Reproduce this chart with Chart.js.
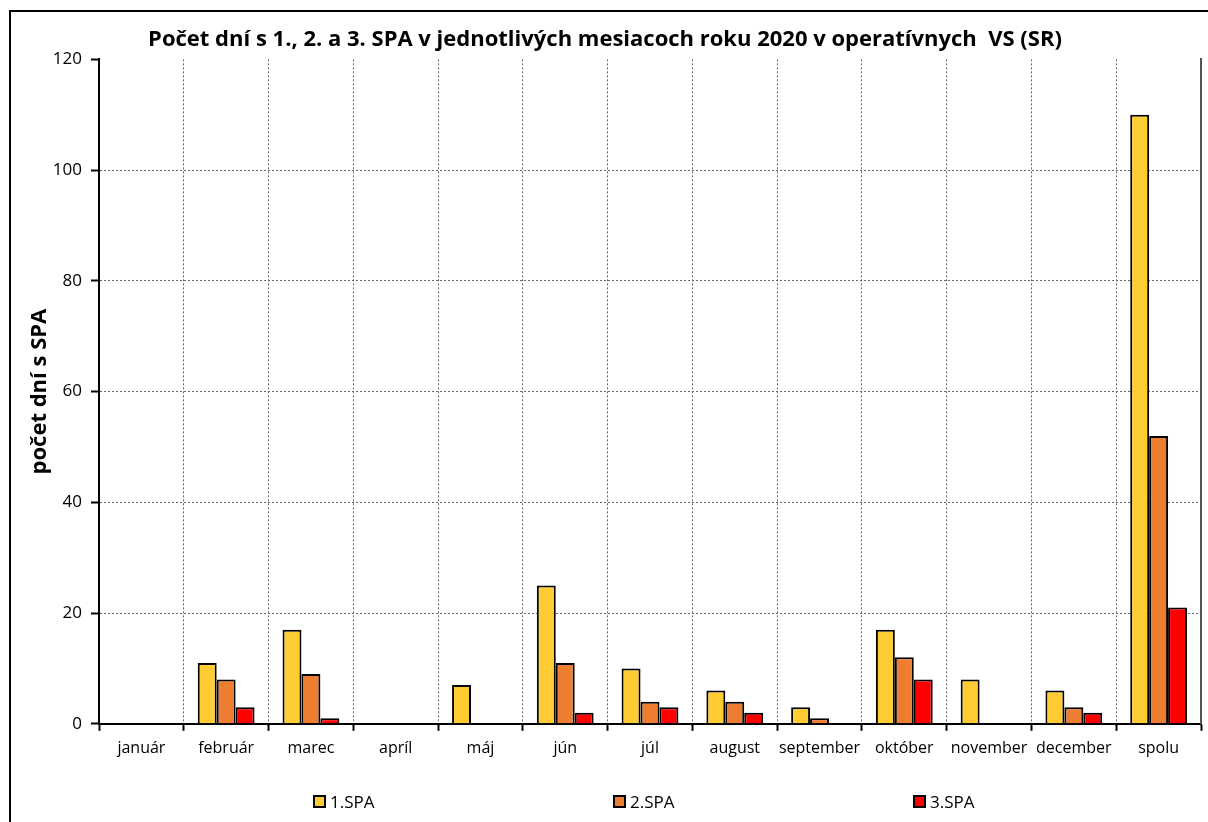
<!DOCTYPE html>
<html>
<head>
<meta charset="utf-8">
<script src="https://cdn.jsdelivr.net/npm/chart.js@4/dist/chart.umd.min.js"></script>
<style>
    body { margin: 0; background: #fff; font-family: "Open Sans", sans-serif; }
    #wrap { position: relative; width: 1208px; height: 822px; overflow: hidden; }
    #frame { position: absolute; left: 9px; top: 10px; width: 1300px; height: 900px; border: 2px solid #000; }
    #chart { position: absolute; left: 0; top: 0; }
    #legend { position: absolute; top: 790px; left: 0; width: 1208px; height: 24px; }
    .item { position: absolute; top: 0; font-size: 17px; color: #000; display: flex; align-items: center; }
    .box { width: 9px; height: 9px; border: 2px solid #000; margin-right: 4px; }
</style>
</head>
<body>
<div id="wrap">
    <div id="frame"></div>
    <canvas id="chart" width="1208" height="822"></canvas>
    <div id="legend"></div>
</div>
<script>
const months = ["január", "február", "marec", "apríl", "máj", "jún", "júl", "august", "september", "október", "november", "december", "spolu"];
const spa1 = [0, 11, 17, 0, 7, 25, 10, 6, 3, 17, 8, 6, 110];
const spa2 = [0, 8, 9, 0, 0, 11, 4, 4, 1, 12, 0, 3, 52];
const spa3 = [0, 3, 1, 0, 0, 2, 3, 2, 0, 8, 0, 2, 21];
const seriesNames = ["1.SPA", "2.SPA", "3.SPA"];
const seriesColors = ["#FFCD33", "#ED7D31", "#FF0000"];

const ctx = document.getElementById("chart").getContext("2d");

function makeSet(i, values) {
    return {
        label: seriesNames[i],
        data: values,
        backgroundColor: seriesColors[i],
        borderColor: "#000",
        borderWidth: 2,
        categoryPercentage: 0.67,
        barPercentage: 1
    };
}

const chart = new Chart(ctx, {
    type: "bar",
    data: {
        labels: months,
        datasets: [makeSet(0, spa1), makeSet(1, spa2), makeSet(2, spa3)]
    },
    options: {
        responsive: false,
        animation: false,
        layout: { padding: { left: 9, right: 7, top: 0, bottom: 56 } },
        plugins: {
            legend: { display: false },
            tooltip: { enabled: false },
            title: {
                display: true,
                text: "Počet dní s 1., 2. a 3. SPA v jednotlivých mesiacoch roku 2020 v operatívnych  VS (SR)",
                color: "#000",
                font: { family: "Open Sans", size: 22, weight: "bold" },
                padding: { top: 27, bottom: 6 }
            }
        },
        scales: {
            x: {
                grid: {
                    color: "#666",
                    lineWidth: 1,
                    offset: true,
                    tickLength: 7,
                    tickColor: "#000",
                    tickWidth: 2
                },
                border: { color: "#000", width: 2, dash: [2, 2] },
                ticks: {
                    color: "#000",
                    font: { family: "Open Sans", size: 16 },
                    padding: 8,
                    maxRotation: 0,
                    autoSkip: false
                }
            },
            y: {
                min: 0,
                max: 120,
                afterFit: (s) => { s.width = 90; },
                ticks: {
                    stepSize: 20,
                    color: "#000",
                    font: { family: "Open Sans", size: 17 },
                    padding: 9
                },
                grid: {
                    color: (c) => (c.tick && c.tick.value === 120 ? "rgba(0,0,0,0)" : "#666"),
                    lineWidth: 1,
                    tickLength: 8,
                    tickColor: "#000",
                    tickWidth: 2
                },
                border: { color: "#000", width: 2, dash: [2, 2] },
                title: {
                    display: true,
                    text: "počet dní s SPA",
                    color: "#000",
                    font: { family: "Open Sans", size: 22, weight: "bold" },
                    padding: { top: 18, bottom: 0 }
                }
            },
            y2: {
                position: "right",
                min: 0,
                max: 120,
                afterFit: (s) => { s.width = 0; },
                ticks: { display: false },
                grid: { drawOnChartArea: false, drawTicks: false },
                border: { color: "#555", width: 2 }
            }
        }
    }
});

// legend spaced like the original
const legend = document.getElementById("legend");
const legendX = [313, 613, 913];
seriesNames.forEach((name, i) => {
    const item = document.createElement("div");
    item.className = "item";
    item.style.left = legendX[i] + "px";
    item.innerHTML = '<span class="box" style="background:' + seriesColors[i] + '"></span>' + name;
    legend.appendChild(item);
});
</script>
</body>
</html>
